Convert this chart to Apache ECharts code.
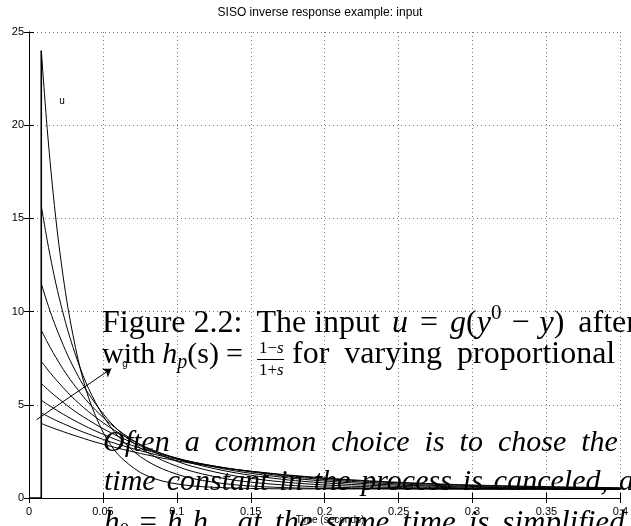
<!DOCTYPE html>
<html><head><meta charset="utf-8">
<script src="https://cdn.jsdelivr.net/npm/echarts@6/dist/echarts.min.js"></script>
<style>html,body{margin:0;padding:0;background:#fff;overflow:hidden}#c{width:631px;height:526px}</style>
</head><body><div id="c"></div>
<script>
// ---- data ----
const times = [0.0083,0.0123,0.0163,0.0203,0.0263,0.0333,0.0403,0.0503,0.0603,0.0753,0.0903,0.1103,0.1403,0.1803,0.2303,0.2903,0.3503,0.4];
const gains = ['0.80','0.82','0.84','0.86','0.88','0.90','0.92','0.94','0.96'];
const u080 = [4.00,3.87,3.75,3.64,3.47,3.29,3.11,2.88,2.67,2.39,2.14,1.86,1.53,1.20,0.92,0.72,0.61,0.55];
const u082 = [4.56,4.40,4.24,4.09,3.88,3.64,3.43,3.14,2.88,2.54,2.24,1.92,1.53,1.17,0.89,0.69,0.58,0.53];
const u084 = [5.25,5.03,4.83,4.63,4.35,4.05,3.77,3.41,3.09,2.67,2.32,1.94,1.51,1.12,0.83,0.64,0.55,0.51];
const u086 = [6.14,5.85,5.57,5.31,4.93,4.53,4.18,3.71,3.31,2.80,2.37,1.93,1.44,1.04,0.76,0.60,0.52,0.49];
const u088 = [7.33,6.92,6.53,6.17,5.65,5.11,4.63,4.03,3.51,2.87,2.37,1.86,1.34,0.93,0.68,0.55,0.50,0.47];
const u090 = [9.00,8.38,7.80,7.26,6.53,5.78,5.11,4.31,3.65,2.86,2.27,1.70,1.17,0.80,0.60,0.51,0.49,0.47];
const u092 = [11.50,10.49,9.57,8.75,7.63,6.53,5.59,4.50,3.64,2.68,2.02,1.43,0.94,0.66,0.53,0.49,0.48,0.48];
const u094 = [15.67,13.83,12.20,10.78,8.97,7.26,5.87,4.39,3.31,2.22,1.56,1.05,0.70,0.54,0.50,0.49,0.485,0.485];
const u096 = [24.00,19.82,16.38,13.54,10.22,7.40,5.38,3.50,2.33,1.37,0.91,0.65,0.53,0.49,0.49,0.49,0.49,0.49];
const stepX = [0, 0.0083, 0.0083];
const stepY = [0, 0, 24];
const arrowFrom = [0.0051, 4.2];
const arrowTo = [0.0557, 6.94];
const xTickLabels = ['0','0.05','0.1','0.15','0.2','0.25','0.3','0.35','0.4'];
const yTickLabels = ['0','5','10','15','20','25'];

const curves = [u080,u082,u084,u086,u088,u090,u092,u094,u096];
const chart = echarts.init(document.getElementById('c'), null, {renderer:'canvas'});
const sans = 'Liberation Sans, Arial, sans-serif';
const serifName = 'Liberation Serif';
const serif = '"Liberation Serif", "Times New Roman", serif';

// text layout helper for the overlaid document text
const mctx = document.createElement('canvas').getContext('2d');
function measure(t, size, italic) {
  mctx.font = (italic ? 'italic ' : '') + size + 'px ' + serif;
  return mctx.measureText(t).width;
}
function layoutLine(x0, baseline, F, segs) {
  const out = [];
  let x = x0;
  segs.forEach(s => {
    if (s.gap) { x += s.gap; return; }
    const size = s.size || F;
    out.push({type: 'text', x: x, y: baseline + (s.dy || 0) - 0.34 * size, z: 12, silent: true,
      style: {text: s.t, fontFamily: serifName, fontStyle: s.i ? 'italic' : 'normal', fontSize: size,
              fill: '#000', align: 'left', verticalAlign: 'middle'}});
    x += measure(s.t, size, s.i);
  });
  return out;
}
function words(str, gap, italic) {
  const segs = [];
  str.split(' ').forEach((w, k) => { if (k) segs.push({gap: gap}); segs.push({t: w, i: italic}); });
  return segs;
}

const series = curves.map((vals, k) => ({
  name: 'g=' + gains[k], type: 'line', symbol: 'none', smooth: 0.3,
  lineStyle: {color: '#000', width: 1}, silent: true, z: 3,
  data: times.map((t, i) => [t, vals[i]])
}));
series.push({
  name: 'step', type: 'line', symbol: 'none', lineStyle: {color: '#000', width: 1.6}, silent: true, z: 3,
  data: stepX.map((x, i) => [x, stepY[i]]),
  markLine: {
    silent: true, symbol: ['none', 'arrow'], symbolSize: 8,
    lineStyle: {type: 'solid', color: '#000', width: 1}, label: {show: false},
    data: [[{coord: arrowFrom, symbol: 'none'}, {coord: arrowTo, symbol: 'arrow'}]]
  }
});

const axCommon = {
  type: 'value', axisLine: {show: true, lineStyle: {color: '#000', width: 1}},
  axisTick: {show: true, inside: true, length: 5, lineStyle: {color: '#000'}}
};

let graphics = [
  {type: 'text', x: 320, y: 13, z: 10, style: {text: 'SISO inverse response example: input', fontFamily: sans, fontSize: 12, fill: '#000', align: 'center', verticalAlign: 'middle'}},
  {type: 'text', x: 62, y: 101, z: 10, style: {text: 'u', fontFamily: sans, fontSize: 10, fill: '#000', align: 'center', verticalAlign: 'middle'}},
  {type: 'text', x: 125, y: 364, z: 10, style: {text: 'g', fontFamily: sans, fontSize: 10, fill: '#000', align: 'center', verticalAlign: 'middle'}},
  {type: 'text', x: 330, y: 520, z: 10, style: {text: 'Time (seconds)', fontFamily: sans, fontSize: 10, fill: '#000', align: 'center', verticalAlign: 'middle'}},
  {type: 'line', z: 12, shape: {x1: 257, y1: 359.5, x2: 284, y2: 359.5}, style: {stroke: '#000', lineWidth: 1}}
];
graphics = graphics.concat(
  layoutLine(102, 334, 32, [
    {t: 'Figure 2.2:'}, {gap: 14}, {t: 'The input'}, {gap: 12}, {t: 'u', i: 1}, {gap: 12}, {t: '='}, {gap: 12},
    {t: 'g', i: 1}, {t: '('}, {t: 'y', i: 1}, {t: '0', size: 21, dy: -13}, {gap: 10}, {t: '−'}, {gap: 10}, {t: 'y', i: 1}, {t: ')'}, {gap: 14}, {t: 'after'}
  ]),
  layoutLine(102, 365, 30, [
    {t: 'with'}, {gap: 7}, {t: 'h', i: 1}, {t: 'p', i: 1, size: 20, dy: 5}, {t: '(s)'}, {gap: 7}, {t: '='}
  ]),
  layoutLine(259, 354, 17, [{t: '1−'}, {t: 's', i: 1}]),
  layoutLine(259, 376, 17, [{t: '1+'}, {t: 's', i: 1}]),
  layoutLine(292, 365, 32, words('for varying proportional gain', 15, 0)),
  layoutLine(103, 453, 30, words('Often a common choice is to chose the integral', 15, 1)),
  layoutLine(104, 492, 30, words('time constant in the process is canceled, and', 11, 1)),
  layoutLine(104, 534, 31, [{t: 'h', i: 1}, {t: '0', size: 20, dy: 5}, {gap: 10}, {t: '='}, {gap: 10}, {t: 'h', i: 1}, {t: 'p', i: 1, size: 20, dy: 5}, {t: 'h', i: 1}, {t: 'c', i: 1, size: 20, dy: 5}, {t: ','}].concat([{gap: 13}], words('at the same time is simplified', 13, 1)))
);

const option = {
  animation: false,
  backgroundColor: '#fff',
  grid: {left: 29, right: 1, top: 32, bottom: 28, containLabel: false},
  xAxis: [
    Object.assign({}, axCommon, {min: 0, max: 0.4, interval: 0.05, position: 'bottom',
      axisLabel: {color: '#000', fontFamily: sans, fontSize: 11, margin: 8,
        formatter: (v) => xTickLabels[Math.round(v / 0.05)] || ''},
      splitLine: {show: true, lineStyle: {type: [1, 3], color: '#777', width: 1}}}),
    Object.assign({}, axCommon, {min: 0, max: 0.4, interval: 0.05, position: 'top',
      axisLabel: {show: false}, splitLine: {show: false}})
  ],
  yAxis: [
    Object.assign({}, axCommon, {min: 0, max: 25, interval: 5, position: 'left',
      axisLabel: {color: '#000', fontFamily: sans, fontSize: 11, margin: 5,
        formatter: (v) => yTickLabels[Math.round(v / 5)] || ''},
      splitLine: {show: true, lineStyle: {type: [1, 3], color: '#777', width: 1}}}),
    Object.assign({}, axCommon, {min: 0, max: 25, interval: 5, position: 'right',
      axisLabel: {show: false}, splitLine: {show: false}})
  ],
  series: series,
  graphic: graphics
};
chart.setOption(option);
</script>
</body></html>
